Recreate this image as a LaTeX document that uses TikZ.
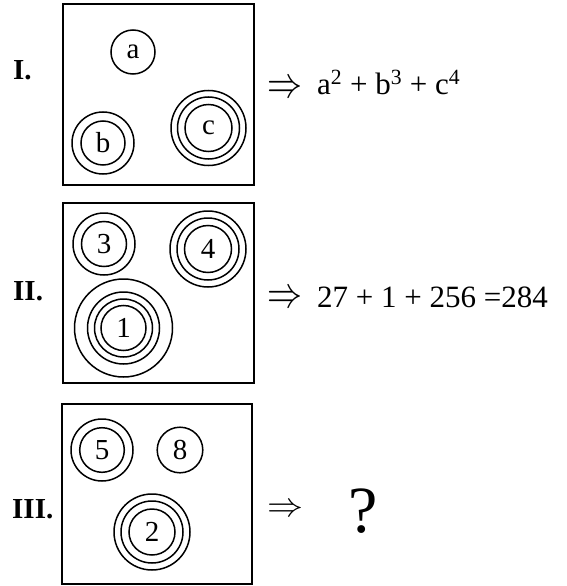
\documentclass[tikz,border=0pt]{standalone}
\usepackage{graphicx}
\usepackage{fontspec}
\setmainfont{Liberation Serif}
\begin{document}
\begin{tikzpicture}[x=1pt,y=-1pt,
  panel/.style={draw, line width=2.2pt},
  ring/.style={circle, draw, line width=1.5pt, inner sep=0pt, font=\fontsize{29}{29}\selectfont},
  ringline/.style={line width=1.5pt},
  roman/.style={anchor=base west, inner sep=0pt, font=\fontsize{29}{29}\selectfont\bfseries},
  implies/.style={anchor=center, inner sep=0pt},
  formula/.style={anchor=base west, inner sep=0pt, font=\fontsize{31}{31}\selectfont}]
\useasboundingbox (0,0) rectangle (567,586);

% Panel I
\draw[panel] (63,4) rectangle (254,185);
\node[roman] (l1) at (13,80) {I.};
\node[ring, minimum size=44pt] (a) at (133,52) {a};
\node[ring, minimum size=44pt] (b) at (103,143) {b};
\draw[ringline] (b.center) circle[radius=31pt];
\node[ring, minimum size=47pt] (c) at (208.5,128) {c};
\draw[ringline] (c.center) circle[radius=31pt];
\draw[ringline] (c.center) circle[radius=37.5pt];
\node[implies] (i1) at (285,89) {\scalebox{3.5}[4.4]{$\Rightarrow$}};
\node[formula] (f1) at (317,94) {a\textsuperscript{2} + b\textsuperscript{3} + c\textsuperscript{4}};

% Panel II
\draw[panel] (63,203) rectangle (254,383);
\node[roman] (l2) at (13,300) {II.};
\node[ring, minimum size=45pt] (n3) at (104,244) {3};
\draw[ringline] (n3.center) circle[radius=31pt];
\node[ring, minimum size=47pt] (n4) at (208,249) {4};
\draw[ringline] (n4.center) circle[radius=31pt];
\draw[ringline] (n4.center) circle[radius=38pt];
\node[ring, minimum size=45pt] (n1) at (123.5,328) {1};
\draw[ringline] (n1.center) circle[radius=29pt];
\draw[ringline] (n1.center) circle[radius=36pt];
\draw[ringline] (n1.center) circle[radius=49pt];
\node[implies] (i2) at (285,299) {\scalebox{3.5}[4.4]{$\Rightarrow$}};
\node[formula] (f2) at (317,307) {27 + 1 + 256 =284};

% Panel III
\draw[panel] (62,404) rectangle (252,584);
\node[roman] (l3) at (12,518) {III.};
\node[ring, minimum size=44.6pt] (n5) at (102,450) {5};
\draw[ringline] (n5.center) circle[radius=31pt];
\node[ring, minimum size=45.6pt] (n8) at (180,450) {8};
\node[ring, minimum size=46pt] (n2) at (152,532) {2};
\draw[ringline] (n2.center) circle[radius=31pt];
\draw[ringline] (n2.center) circle[radius=38pt];
\node[implies] (i3) at (285,510) {\scalebox{3.6}[3.4]{$\Rightarrow$}};
\node[formula, font=\fontsize{66}{66}\selectfont] (q) at (348,532) {?};
\end{tikzpicture}
\end{document}
